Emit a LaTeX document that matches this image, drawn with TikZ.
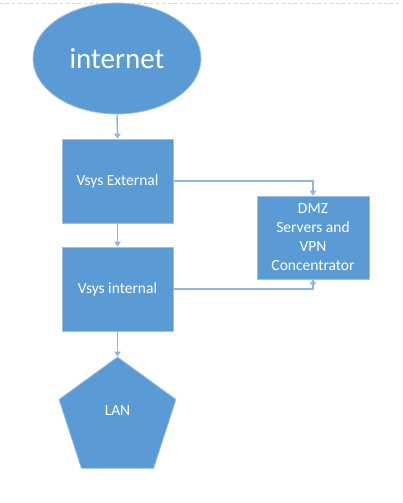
\documentclass[tikz,border=0pt]{standalone}
\usepackage{fontspec}
\setmainfont{Carlito}
\usetikzlibrary{shapes.geometric,arrows.meta}
\definecolor{boxblue}{HTML}{5B9BD5}
\definecolor{boxedge}{HTML}{A3BFDD}
\definecolor{linkblue}{HTML}{8DB6E2}
\tikzset{
  shapebox/.style={fill=boxblue,draw=boxedge,line width=0.8pt,text=white,font=\fontsize{15.5}{19}\selectfont,align=center,inner sep=0pt},
  rectbox/.style={shapebox,rectangle,minimum width=111pt,minimum height=84pt},
  link/.style={draw=linkblue,line width=1.4pt,-{Triangle[width=6.5pt,length=5pt]},color=linkblue}
}
\begin{document}
\begin{tikzpicture}[x=1pt,y=-1pt]
\useasboundingbox (0,0) rectangle (402,503);
\draw[gray!35,dashed,line width=0.6pt] (0,3) -- (402,3);
\node[shapebox,ellipse,minimum width=168pt,minimum height=111pt,font=\fontsize{29}{34}\selectfont] (inet) at (117,58.5) {internet};
\node[rectbox] (ext) at (117.5,181) {Vsys External};
\node[rectbox] (int) at (117.5,289) {Vsys internal};
\node[shapebox,rectangle,minimum width=112pt,minimum height=83pt] (dmz) at (313,237.5) {DMZ\\Servers and\\VPN\\Concentrator};
\node[shapebox,regular polygon,regular polygon sides=5,minimum size=123pt] (lan) at (117.5,418.5) {};
\node[text=white,font=\fontsize{15.5}{19}\selectfont] (lant) at (117.5,411) {LAN};
\draw[link] (inet.south) -- (ext.north);
\draw[link] (ext.south) -- (int.north);
\draw[link] (int.south) -- (lan.corner 1);
\draw[link] (ext.east) -| (dmz.north);
\draw[link] (int.east) -| (dmz.south);
\end{tikzpicture}
\end{document}
